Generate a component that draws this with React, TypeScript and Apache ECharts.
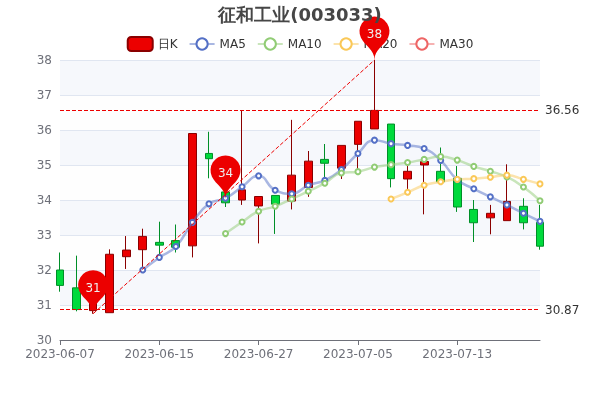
import React, { useEffect, useRef } from "react";
import * as echarts from "echarts";

const title = "征和工业(003033)";
const dates = [
  "2023-06-07","2023-06-08","2023-06-09","2023-06-12","2023-06-13","2023-06-14","2023-06-15",
  "2023-06-16","2023-06-19","2023-06-20","2023-06-21","2023-06-26","2023-06-27","2023-06-28",
  "2023-06-29","2023-06-30","2023-07-03","2023-07-04","2023-07-05","2023-07-06","2023-07-07",
  "2023-07-10","2023-07-11","2023-07-12","2023-07-13","2023-07-14","2023-07-17","2023-07-18",
  "2023-07-19","2023-07-20",
];
// open, close, lowest, highest
const candles = [
  [32.0,31.56,31.38,32.5],[31.49,30.87,30.82,32.41],[30.84,31.15,30.75,31.3],[30.78,32.45,30.78,32.59],
  [32.38,32.57,32.03,32.97],[32.58,32.96,32.0,33.18],[32.79,32.71,32.45,33.38],[32.84,32.65,32.5,33.3],
  [32.69,35.9,32.36,35.9],[35.33,35.18,34.62,35.95],[34.23,33.92,33.8,34.4],[34.0,34.29,33.86,36.55],
  [33.83,34.1,32.76,34.1],[34.13,33.88,33.03,34.13],[33.97,34.71,33.73,36.29],[34.36,35.11,34.09,35.4],
  [35.16,35.05,34.43,35.6],[34.91,35.56,34.6,35.56],[35.59,36.25,34.88,36.25],[36.03,36.56,36.03,38],
  [36.17,34.61,34.36,36.17],[34.6,34.82,34.29,34.97],[35.0,35.1,33.59,35.15],[34.82,34.52,34.5,35.5],
  [34.62,33.8,33.66,34.97],[33.73,33.35,32.8,34.0],[33.49,33.62,33.02,33.86],[33.41,33.96,33.41,35.02],
  [33.82,33.35,33.16,34.05],[33.36,32.68,32.58,33.86],
];
const ma5 = ["-","-","-","-","-",32.0,32.36,32.67,33.36,33.89,34.05,34.38,34.69,34.28,34.18,34.42,34.56,34.87,35.33,35.71,35.61,35.56,35.47,35.13,34.58,34.32,34.09,33.86,33.62,33.39];
const ma10 = ["-","-","-","-","-","-","-","-","-","-",33.04,33.37,33.68,33.82,34.03,34.25,34.48,34.77,34.81,34.94,35.01,35.07,35.16,35.24,35.14,34.96,34.82,34.66,34.37,33.98];
const ma20 = ["-","-","-","-","-","-","-","-","-","-","-","-","-","-","-","-","-","-","-","-",34.03,34.22,34.42,34.52,34.59,34.61,34.65,34.71,34.59,34.46];
const ma30: (number | string)[] = dates.map(() => "-");
const averageIndex = 10;
const averageClose = 34.03;

const UP = "#ec0000";
const DOWN = "#00da3c";
const UP_BORDER = "#8A0000";
const DOWN_BORDER = "#008F28";
const FONT = "DejaVu Sans";

const lineSeries = (name: string, data: (number | string)[], color: string) => ({
  name,
  type: "line",
  data,
  smooth: true,
  symbolSize: 5,
  color,
  itemStyle: { color, borderWidth: 1.5 },
  lineStyle: { opacity: 0.5, color, width: 2.5 },
});

export default function App() {
  const ref = useRef<HTMLDivElement>(null);
  useEffect(() => {
    const chart = echarts.init(ref.current!, undefined, { renderer: "svg" });
    chart.setOption({
      animation: false,
      textStyle: { fontFamily: FONT },
      title: { text: title, left: "center", top: 0, textStyle: { color: "#464646", fontSize: 18, fontWeight: "bold", fontFamily: FONT } },
      legend: { data: ["日K", "MA5", "MA10", "MA20", "MA30"], top: 31, itemGap: 11, textStyle: { color: "#333", fontFamily: FONT } },
      grid: { left: 60, right: 60, top: 60, bottom: 60 },
      xAxis: {
        type: "category",
        data: dates,
        boundaryGap: false,
        axisLine: { onZero: false, lineStyle: { color: "#6E7079" } },
        splitLine: { show: false },
        axisTick: { interval: 5, lineStyle: { color: "#6E7079" } },
        axisLabel: { interval: 5, hideOverlap: false, color: "#6E7079", fontFamily: FONT },
      },
      yAxis: {
        scale: true,
        min: 30,
        max: 38,
        interval: 1,
        axisLabel: { color: "#6E7079", fontFamily: FONT },
        splitLine: { lineStyle: { color: "#E0E6F1" } },
        splitArea: { show: true, areaStyle: { color: ["rgba(250,250,250,0.2)", "rgba(210,219,238,0.2)"] } },
      },
      series: [
        {
          name: "日K",
          type: "candlestick",
          data: candles,
          clip: false,
          itemStyle: { color: UP, color0: DOWN, borderColor: UP_BORDER, borderColor0: DOWN_BORDER },
          markPoint: {
            itemStyle: { color: UP },
            label: { formatter: (p: any) => String(Math.round(p.value)), color: "#eee", fontFamily: FONT },
            data: [
              { name: "highest value", type: "max", valueDim: "highest" },
              { name: "lowest value", type: "min", valueDim: "lowest" },
              { name: "average value on close", coord: [dates[averageIndex], averageClose], value: averageClose },
            ],
          },
          markLine: {
            symbol: ["none", "none"],
            lineStyle: { color: UP, type: "dashed", width: 1 },
            label: { color: "#333", fontFamily: FONT },
            data: [
              [
                { name: "from lowest to highest", type: "min", valueDim: "lowest", symbol: "circle", symbolSize: 0, label: { show: false } },
                { type: "max", valueDim: "highest", symbol: "circle", symbolSize: 0, label: { show: false } },
              ],
              { name: "min line on close", type: "min", valueDim: "close" },
              { name: "max line on close", type: "max", valueDim: "close" },
            ],
          },
        },
        lineSeries("MA5", ma5, "#5470c6"),
        lineSeries("MA10", ma10, "#91cc75"),
        lineSeries("MA20", ma20, "#fac858"),
        lineSeries("MA30", ma30, "#ee6666"),
      ],
    });
    return () => chart.dispose();
  }, []);
  return <div ref={ref} style={{ width: 600, height: 400, position: "fixed", left: 0, top: 0 }} />;
}
